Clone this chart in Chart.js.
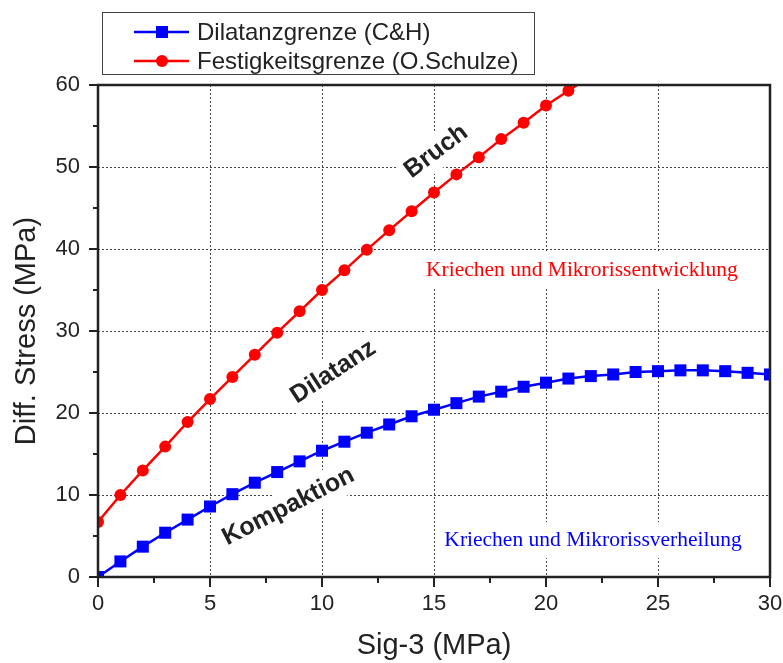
<!DOCTYPE html>
<html>
<head>
<meta charset="utf-8">
<script src="https://cdn.jsdelivr.net/npm/chart.js@4.4.0/dist/chart.umd.min.js"></script>
<style>
  html, body { margin: 0; padding: 0; background: #fff; }
</style>
</head>
<body>
<canvas id="stressChart" width="783" height="663"></canvas>
<script>
// Sig-3 (MPa) and diff. stress (MPa)
const sig3Dil = [0, 1, 2, 3, 4, 5, 6, 7, 8, 9, 10, 11, 12, 13, 14, 15, 16, 17, 18, 19, 20, 21, 22, 23, 24, 25, 26, 27, 28, 29, 30];
const dilatanzgrenze = [0, 1.9, 3.7, 5.4, 7.0, 8.6, 10.1, 11.5, 12.8, 14.1, 15.4, 16.5, 17.6, 18.6, 19.6, 20.4, 21.2, 22.0, 22.6, 23.2, 23.7, 24.2, 24.5, 24.7, 25.0, 25.1, 25.2, 25.2, 25.1, 24.9, 24.7];

const sig3Fest = [0, 1, 2, 3, 4, 5, 6, 7, 8, 9, 10, 11, 12, 13, 14, 15, 16, 17, 18, 19, 20, 21, 22];
const festigkeitsgrenze = [6.7, 10.0, 13.0, 15.9, 18.9, 21.7, 24.4, 27.1, 29.8, 32.4, 35.0, 37.4, 39.9, 42.3, 44.6, 46.9, 49.1, 51.2, 53.4, 55.4, 57.5, 59.3, 61.1];

const seriesNames = ['Dilatanzgrenze (C&H)', 'Festigkeitsgrenze (O.Schulze)'];
const xTicks = [0, 5, 10, 15, 20, 25, 30];
const yTicks = [0, 10, 20, 30, 40, 50, 60];

// region labels: [text, sig3, stress, angle]
const regionLabels = [
  ['Bruch', 15.1, 51.9, -37],
  ['Dilatanz', 10.5, 25.0, -33],
  ['Kompaktion', 8.5, 8.6, -27]
];
const processLabels = [
  ['Kriechen und Mikrorissentwicklung', 21.6, 37.4, '#ff0000'],
  ['Kriechen und Mikrorissverheilung', 22.1, 4.5, '#0000ff']
];

const BLUE = '#0000ff';
const RED = '#ff0000';
const INK = '#222222';

function labelBox(ctx, x, y, text, font, color, angle, boxH) {
  ctx.save();
  ctx.translate(x, y);
  ctx.rotate(angle * Math.PI / 180);
  ctx.font = font;
  const w = ctx.measureText(text).width;
  ctx.fillStyle = '#ffffff';
  ctx.fillRect(-w / 2 - 5, -boxH / 2, w + 10, boxH);
  ctx.fillStyle = color;
  ctx.textAlign = 'center';
  ctx.textBaseline = 'middle';
  ctx.fillText(text, 0, 0);
  ctx.restore();
}

const decorations = {
  id: 'decorations',
  beforeDatasetsDraw(chart) {
    const ctx = chart.ctx;
    const xs = chart.scales.x, ys = chart.scales.y;
    regionLabels.forEach(l => {
      labelBox(ctx, xs.getPixelForValue(l[1]), ys.getPixelForValue(l[2]), l[0],
        'bold 25px "Liberation Sans", Arial, sans-serif', INK, l[3], 34);
    });
    processLabels.forEach(l => {
      labelBox(ctx, xs.getPixelForValue(l[1]), ys.getPixelForValue(l[2]), l[0],
        '21.5px "Liberation Serif", "Times New Roman", serif', l[3], 0, 36);
    });
  },
  afterDatasetsDraw(chart) {
    const ctx = chart.ctx;
    const a = chart.chartArea;
    const xs = chart.scales.x, ys = chart.scales.y;
    ctx.save();
    ctx.strokeStyle = INK;
    ctx.lineWidth = 2.5;
    ctx.strokeRect(a.left, a.top, a.right - a.left, a.bottom - a.top);
    ctx.lineWidth = 2;
    ctx.beginPath();
    for (let v = 0; v <= 60; v += 5) {
      const y = ys.getPixelForValue(v);
      const len = v % 10 === 0 ? 9 : 5;
      ctx.moveTo(a.left - len, y);
      ctx.lineTo(a.left, y);
    }
    for (let v = 0; v <= 30; v += 2.5) {
      const x = xs.getPixelForValue(v);
      const len = v % 5 === 0 ? 10 : 6;
      ctx.moveTo(x, a.bottom);
      ctx.lineTo(x, a.bottom + len);
    }
    ctx.stroke();
    ctx.restore();
  },
  afterDraw(chart) {
    // legend box with line + marker samples
    const ctx = chart.ctx;
    ctx.save();
    ctx.fillStyle = '#ffffff';
    ctx.fillRect(102, 12, 432, 62);
    ctx.strokeStyle = '#444444';
    ctx.lineWidth = 1;
    ctx.strokeRect(102.5, 12.5, 432, 62);
    const rows = [32, 61];
    chart.data.datasets.forEach((ds, i) => {
      const y = rows[i];
      ctx.strokeStyle = ds.borderColor;
      ctx.lineWidth = 2.5;
      ctx.beginPath();
      ctx.moveTo(134, y);
      ctx.lineTo(189, y);
      ctx.stroke();
      ctx.fillStyle = ds.borderColor;
      if (ds.pointStyle === 'rect') {
        ctx.fillRect(156, y - 6, 12, 12);
      } else {
        ctx.beginPath();
        ctx.arc(162, y, 6, 0, Math.PI * 2);
        ctx.fill();
      }
      ctx.fillStyle = INK;
      ctx.font = '24px "Liberation Sans", Arial, sans-serif';
      ctx.textAlign = 'left';
      ctx.textBaseline = 'middle';
      ctx.fillText(ds.label, 197, y + 1);
    });
    ctx.restore();
  }
};

const ctx = document.getElementById('stressChart').getContext('2d');
const stressChart = new Chart(ctx, {
  type: 'line',
  data: {
    datasets: [{
      label: seriesNames[0],
      data: sig3Dil.map((x, i) => ({ x: x, y: dilatanzgrenze[i] })),
      borderColor: BLUE,
      backgroundColor: BLUE,
      borderWidth: 2.5,
      pointStyle: 'rect',
      pointRadius: 8.5,
      pointBorderWidth: 0,
      clip: 0,
      fill: false
    }, {
      label: seriesNames[1],
      data: sig3Fest.map((x, i) => ({ x: x, y: festigkeitsgrenze[i] })),
      borderColor: RED,
      backgroundColor: RED,
      borderWidth: 2.5,
      pointStyle: 'circle',
      pointRadius: 6,
      pointBorderWidth: 0,
      clip: 0,
      fill: false
    }]
  },
  options: {
    responsive: false,
    animation: false,
    layout: { padding: { left: 0, top: 85, right: 0, bottom: 0 } },
    plugins: { legend: { display: false }, tooltip: { enabled: false } },
    scales: {
      x: {
        type: 'linear',
        min: 0,
        max: 30,
        afterBuildTicks: s => { s.ticks = xTicks.map(v => ({ value: v })); },
        afterFit: s => { s.height = 86; s.paddingLeft = 0; s.paddingRight = 13; },
        ticks: {
          color: INK,
          padding: 14,
          font: { family: '"Liberation Sans", Arial, sans-serif', size: 22 }
        },
        grid: { color: '#444444', lineWidth: 1, drawTicks: false },
        border: { display: false, dash: [2, 2] },
        title: {
          display: true,
          text: 'Sig-3 (MPa)',
          color: INK,
          padding: { top: 0, bottom: 0 },
          font: { family: '"Liberation Sans", Arial, sans-serif', size: 29 }
        }
      },
      y: {
        min: 0,
        max: 60,
        afterBuildTicks: s => { s.ticks = yTicks.map(v => ({ value: v })); },
        afterFit: s => { s.width = 98; },
        ticks: {
          color: INK,
          padding: 18,
          font: { family: '"Liberation Sans", Arial, sans-serif', size: 22 }
        },
        grid: { color: '#444444', lineWidth: 1, drawTicks: false },
        border: { display: false, dash: [2, 2] },
        title: {
          display: true,
          text: 'Diff. Stress (MPa)',
          color: INK,
          padding: { top: 10, bottom: 0 },
          font: { family: '"Liberation Sans", Arial, sans-serif', size: 29 }
        }
      }
    }
  },
  plugins: [decorations]
});
</script>
</body>
</html>
